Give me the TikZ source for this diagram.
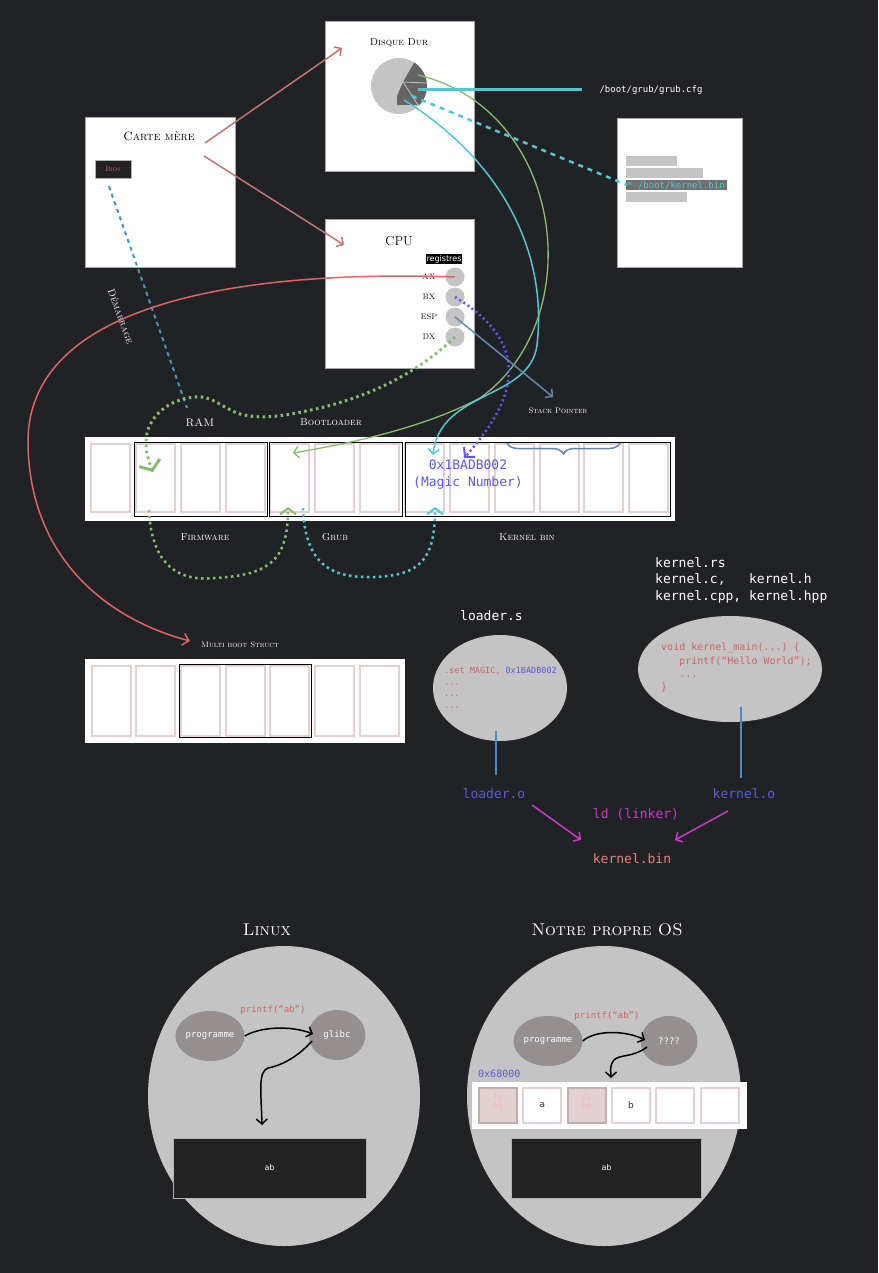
\documentclass[tikz,border=0pt]{standalone}
\usepackage{fontspec}
\setmonofont{DejaVu Sans Mono}
\setsansfont{DejaVu Sans}
\usetikzlibrary{arrows.meta,decorations.pathreplacing,shapes.geometric,calc}
\definecolor{bgc}{RGB}{33,34,38}
\definecolor{dred}{RGB}{196,115,115}
\definecolor{bred}{RGB}{224,100,100}
\definecolor{grn}{RGB}{135,190,110}
\definecolor{cyn}{RGB}{80,200,210}
\definecolor{sblue}{RGB}{70,150,185}
\definecolor{vio}{RGB}{90,90,240}
\definecolor{steel}{RGB}{100,135,170}
\definecolor{mag}{RGB}{200,60,200}
\definecolor{lblue}{RGB}{70,140,200}
\definecolor{viotext}{RGB}{90,90,220}
\definecolor{salmon}{RGB}{230,130,120}
\definecolor{codered}{RGB}{210,100,100}
\definecolor{pinkc}{RGB}{228,208,208}
\definecolor{lgray}{RGB}{196,196,196}
\definecolor{mgray}{RGB}{150,143,143}
\definecolor{dgray}{RGB}{100,100,100}
\definecolor{hlgray}{RGB}{112,112,112}
\definecolor{boxblk}{RGB}{34,34,34}
\begin{document}
\begin{tikzpicture}[x=1pt,y=-1pt,
  wbox/.style={draw=gray!70, fill=white, line width=0.8pt, inner sep=0pt, anchor=north west},
  hand/.style={font=\fontsize{10}{12}\selectfont\scshape, text=white, inner sep=1pt},
  handk/.style={font=\fontsize{10}{12}\selectfont\scshape, text=black, inner sep=1pt},
  mono/.style={font=\fontsize{13}{15}\selectfont\ttfamily, inner sep=1pt},
  cell/.style={draw=pinkc, line width=2pt, fill=white, minimum width=39pt, minimum height=68pt, inner sep=0pt},
  grp/.style={draw=black, line width=1pt},
  regc/.style={circle, fill=lgray, minimum size=19pt, inner sep=0pt},
  barb/.style={-{Straight Barb[length=5pt,width=11pt]}},
  code/.style={font=\fontsize{9}{12}\selectfont\ttfamily, text=codered, inner sep=0pt, align=left, anchor=north west},
  blob/.style={ellipse, fill=mgray, inner sep=0pt, text=white, font=\fontsize{9}{10}\selectfont\ttfamily},
]
\fill[bgc] (0,0) rectangle (878,1273);
\useasboundingbox (0,0) rectangle (878,1273);

% ---------------- Disque dur
\node[wbox, minimum width=149pt, minimum height=150pt] (disk) at (325,21) {};
\node[handk] (disktitle) at (399,43) {Disque Dur};
\coordinate (pc) at (399,86);
\fill[lgray] (pc) circle (28);
\fill[dgray] (403,82) -- ($(pc)+(-57:28)$) arc[start angle=-57,end angle=42,radius=28] -- (397,105) -- (397,96) -- cycle;
\draw[lgray, line width=0.8pt] (403,82) -- (427,83) (403,82) -- (418,105);
\coordinate (dgreen) at (418,75);
\coordinate (dcyan) at (418,90);
\coordinate (ddash) at (412,96);
\coordinate (dcurve) at (404,100);

% ---------------- Carte mere
\node[wbox, minimum width=150pt, minimum height=150pt] (cm) at (85,117) {};
\node[handk, font=\fontsize{12}{14}\selectfont\scshape] (cmtitle) at (159,136) {Carte mère};
\node[fill=boxblk, draw=gray!60, line width=0.5pt, minimum width=36pt, minimum height=18pt, inner sep=0pt, text=codered, font=\fontsize{7}{8}\selectfont\scshape] (bios) at (113,169) {Bios};

% ---------------- CPU
\node[wbox, minimum width=149pt, minimum height=149pt] (cpu) at (325,219) {};
\node[handk, font=\fontsize{13}{15}\selectfont] (cputitle) at (399,241) {CPU};
\node[fill=black, text=white, inner sep=1pt, font=\fontsize{8}{9}\selectfont\sffamily] (reg) at (444,259) {registres};
\node[regc] (ax) at (455,277) {};
\node[regc] (bx) at (455,297) {};
\node[regc] (esp) at (455,317) {};
\node[regc] (dx) at (455,337) {};
\node[handk, font=\fontsize{8}{9}\selectfont\scshape] at (429,277) {AX};
\node[handk, font=\fontsize{8}{9}\selectfont\scshape] at (429,297) {BX};
\node[handk, font=\fontsize{8}{9}\selectfont\scshape] at (429,317) {ESP};
\node[handk, font=\fontsize{8}{9}\selectfont\scshape] at (429,337) {DX};

% ---------------- grub.cfg file
\node[wbox, minimum width=125pt, minimum height=149pt] (cfg) at (617,118) {};
\fill[lgray] (626,156) rectangle (677,166);
\fill[lgray] (626,168) rectangle (703,178);
\fill[hlgray] (626,180) rectangle (727,190);
\fill[lgray] (626,192) rectangle (687,202);
\node[anchor=west, text=cyn, inner sep=0pt, font=\fontsize{9}{10}\selectfont\ttfamily] (kline) at (627,185) {* /boot/kernel.bin};
\node[text=white, inner sep=1pt, font=\fontsize{9}{10}\selectfont\ttfamily] (cfgname) at (651,90) {/boot/grub/grub.cfg};

% ---------------- arrows carte mere
\coordinate (cmA) at (205,143);
\coordinate (cmB) at (204,156);
\draw[dred, line width=1.5pt, barb] (cmA) -- (342,48);
\draw[dred, line width=1.5pt, barb] (cmB) -- (344,245);

% ---------------- RAM row
\node[fill=white, inner sep=0pt, anchor=north west, minimum width=590pt, minimum height=84pt] (ram) at (85,437) {};
\foreach \i in {0,...,12} {
  \node[cell] (r\i) at ({110.5+44.85*\i},478) {};
}
\draw[grp] (134,442) rectangle (267,516);
\draw[grp] (269.5,442) rectangle (402,516);
\draw[grp] (405,442) rectangle (670,516);
\node[hand, font=\fontsize{11}{13}\selectfont\scshape] (ramlbl) at (200,423) {RAM};
\node[hand] (bootl) at (331,422) {Bootloader};
\node[hand, font=\fontsize{8}{10}\selectfont\scshape] (spl) at (558,411) {Stack Pointer};
\node[hand] (fwl) at (205,537) {Firmware};
\node[hand] (grubl) at (335,537) {Grub};
\node[hand] (kbl) at (527,537) {Kernel bin};
\node[mono, text=viotext, align=center, font=\fontsize{13}{17}\selectfont\ttfamily] (magic) at (468,475) {0x1BADB002\\(Magic Number)};

% ---------------- Multiboot row
\node[fill=white, inner sep=0pt, anchor=north west, minimum width=320pt, minimum height=84pt] (mb) at (85,659) {};
\foreach \i in {0,...,6} {
  \node[cell, minimum height=70pt] (m\i) at ({111+44.7*\i},700.5) {};
}
\draw[grp] (179,664) rectangle (311,737);
\node[hand, font=\fontsize{8}{10}\selectfont\scshape] (mbl) at (240,645) {Multi boot Struct};

% ---------------- connectors to RAM
\draw[sblue, line width=2pt, dash pattern=on 4pt off 4pt] (bios.south) ++(-4,8) -- (187,408);
\node[hand, rotate=-70, font=\fontsize{10}{12}\selectfont\scshape] (dem) at (121,316) {Démarrage};

\draw[grn, line width=1.3pt, -{Straight Barb[length=5pt,width=12pt]}]
  (dgreen) .. controls (565,110) and (590,320) .. (480,398) .. controls (420,430) and (340,445) .. (293,453);

\draw[cyn, line width=3pt] (dcyan) -- (582,90);
\draw[cyn, line width=2.5pt, dash pattern=on 5pt off 5pt] (ddash) -- (kline.west);
\draw[cyn, line width=1.5pt, -{Straight Barb[length=5pt,width=11pt]}]
  (dcurve) .. controls (500,160) and (548,250) .. (537,345) .. controls (530,400) and (440,390) .. (433,455);

\draw[bred, line width=1.5pt, -{Straight Barb[length=6pt,width=12pt]}]
  (ax.center) .. controls (250,270) and (30,300) .. (28,440) .. controls (28,560) and (110,620) .. (190,641);

\draw[vio, line width=2.5pt, dash pattern=on 2pt off 3pt, -{Straight Barb[length=7pt,width=15pt,line width=2pt]}]
  (bx.center) .. controls (525,340) and (525,390) .. (464,458);

\draw[steel, line width=1.5pt, barb] (esp.center) -- (553,397);
\draw[steel, line width=1.5pt, decorate, decoration={brace, amplitude=11pt}] (620,443) -- (507,443);

\draw[grn, line width=3pt, dash pattern=on 2.5pt off 3.5pt, -{Straight Barb[length=8pt,width=22pt,line width=3pt]}]
  (dx.center) .. controls (410,380) and (360,398) .. (320,408)
  .. controls (285,416) and (262,420) .. (240,414)
  .. controls (222,408) and (212,395) .. (195,397)
  .. controls (168,399) and (146,418) .. (146,442)
  .. controls (146,456) and (150,464) .. (153,472);

\draw[grn, line width=2.5pt, dash pattern=on 2.5pt off 3.5pt, -{Straight Barb[length=6pt,width=16pt,line width=2pt]}]
  (149,510) .. controls (152,580) and (195,580) .. (215,578) .. controls (270,575) and (288,560) .. (288,507);

\draw[cyn, line width=2.5pt, dash pattern=on 2.5pt off 3.5pt, -{Straight Barb[length=6pt,width=16pt,line width=2pt]}]
  (303,508) .. controls (305,572) and (340,578) .. (375,577) .. controls (420,575) and (435,560) .. (435,507);

% ---------------- loader / kernel
\node[mono, text=white, anchor=west] (loaders) at (459,616) {loader.s};
\node[mono, text=white, anchor=north west, align=left, font=\fontsize{13}{16.5}\selectfont\ttfamily] (ksrc) at (654,556) {kernel.rs\\kernel.c,\ \ \ kernel.h\\kernel.cpp, kernel.hpp};
\node[ellipse, fill=lgray, minimum width=134pt, minimum height=106pt, inner sep=0pt] (loader) at (500,688) {};
\node[code, font=\fontsize{8.5}{11.5}\selectfont\ttfamily] (lcode) at (444,667) {.set MAGIC, \textcolor{viotext}{0x1BADB002}\\...\\...\\...};
\node[ellipse, fill=lgray, minimum width=184pt, minimum height=106pt, inner sep=0pt] (kern) at (730,669) {};
\node[code, font=\fontsize{10}{13.3}\selectfont\ttfamily] (kcode) at (661,643) {void kernel\_main(...) \{\\\ \ \ printf(“Hello World”);\\\ \ \ ...\\\}};
\node[mono, text=viotext] (loadero) at (494,794) {loader.o};
\node[mono, text=viotext] (kernelo) at (744,794) {kernel.o};
\coordinate (lstem) at (496,731);
\coordinate (kstem) at (741,707);
\draw[lblue, line width=2pt] (lstem) -- (496,775);
\draw[lblue, line width=2pt] (kstem) -- (741,778);
\node[mono, text=mag] (ld) at (636,814) {ld (linker)};
\node[mono, text=salmon] (kbin) at (632,859) {kernel.bin};
\draw[mag, line width=1.5pt, barb] (532,805) -- (581,840);
\draw[mag, line width=1.5pt, barb] (728,811) -- (675,840);

% ---------------- Linux
\node[hand, font=\fontsize{17}{19}\selectfont\scshape] (linuxt) at (267,930) {Linux};
\node[ellipse, fill=lgray, minimum width=272pt, minimum height=300pt, inner sep=0pt] (linux) at (284,1096) {};
\node[blob, minimum width=58pt, minimum height=50pt] (prog1) at (210,1036) {programme};
\node[blob, minimum width=57pt, minimum height=50pt] (glibc) at (337,1035) {glibc};
\node[text=codered, inner sep=0pt, font=\fontsize{9}{10}\selectfont\ttfamily] (pf1) at (273,1010) {printf(“ab”)};
\draw[black, line width=1.5pt, barb] (prog1.east) .. controls (260,1027) and (290,1025) .. (313,1034);
\node[fill=boxblk, draw=gray!60, line width=0.5pt, minimum width=193pt, minimum height=60pt, inner sep=0pt, text=white, font=\fontsize{8}{9}\selectfont\sffamily] (scr1) at (269.5,1168) {ab};
\draw[black, line width=1.5pt, barb] (312,1041) .. controls (295,1060) and (278,1066) .. (268,1068) .. controls (258,1072) and (261,1090) .. (262,1125);

% ---------------- Notre propre OS
\node[hand, font=\fontsize{17}{19}\selectfont\scshape] (ost) at (607,930) {Notre propre OS};
\node[ellipse, fill=lgray, minimum width=274pt, minimum height=300pt, inner sep=0pt] (os) at (604,1096) {};
\node[blob, minimum width=58pt, minimum height=50pt] (prog2) at (548,1041) {programme};
\node[blob, minimum width=57pt, minimum height=50pt] (qq) at (669,1041) {????};
\node[text=codered, inner sep=0pt, font=\fontsize{9}{10}\selectfont\ttfamily] (pf2) at (607,1016) {printf(“ab”)};
\draw[black, line width=1.5pt, barb] (prog2.east) .. controls (595,1030) and (625,1030) .. (645,1040);
\node[text=viotext, anchor=west, inner sep=0pt, font=\fontsize{10}{11}\selectfont\ttfamily] (vga) at (478,1074) {0x68000};
\node[fill=white, inner sep=0pt, minimum width=275pt, minimum height=47pt] (strip) at (609.5,1105.5) {};
\foreach \i/\t in {0/,1/a,2/,3/b,4/,5/} {
  \node[cell, minimum width=38pt, minimum height=35pt, font=\fontsize{9}{10}\selectfont\sffamily, text=black!80] (v\i) at ({498+44.3*\i},1105.5) {\t};
}
\foreach \i in {0,2} {
  \node[draw=pinkc!80!black!90, line width=2pt, fill=pinkc, minimum width=38pt, minimum height=35pt, inner sep=0pt, align=center, text=codered!45, font=\fontsize{8}{9}\selectfont\ttfamily] at (v\i) {fg\\bg\\..};
}
\draw[black, line width=1.5pt, barb] (647,1047) .. controls (632,1058) and (620,1054) .. (614,1060) .. controls (609,1066) and (611,1072) .. (611,1078);
\node[fill=boxblk, draw=gray!60, line width=0.5pt, minimum width=190pt, minimum height=60pt, inner sep=0pt, text=white, font=\fontsize{8}{9}\selectfont\sffamily] (scr2) at (606.5,1168) {ab};
\end{tikzpicture}
\end{document}
